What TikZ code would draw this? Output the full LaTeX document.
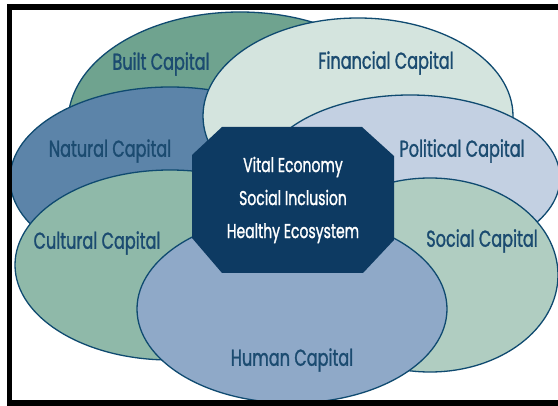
\documentclass[tikz,border=0pt]{standalone}
\usepackage{fontspec}
\newfontfamily\capfont[FakeStretch=0.70,FakeBold=1.2]{Poppins}
\definecolor{builtc}{HTML}{6FA38F}
\definecolor{finc}{HTML}{D4E4DE}
\definecolor{natc}{HTML}{5C84A9}
\definecolor{polc}{HTML}{C3D0E2}
\definecolor{culc}{HTML}{8FB9A9}
\definecolor{socc}{HTML}{B0CDC1}
\definecolor{humc}{HTML}{8FA9C8}
\definecolor{corec}{HTML}{0D3A62}
\definecolor{edgec}{HTML}{0F4A70}
\definecolor{labc}{HTML}{1B4B70}
\tikzset{
  capshape/.style={draw=edgec, line width=1.3pt},
  lbl/.style={font=\capfont\fontsize{23}{23}\selectfont, text=labc, inner sep=0pt},
  corelbl/.style={font=\capfont\fontsize{20}{33}\selectfont, text=white, align=center, inner sep=0pt},
}
\begin{document}
\begin{tikzpicture}[x=1pt,y=-1pt]
\useasboundingbox (0,0) rectangle (558,406);
\fill[white] (0,0) rectangle (558,406);
% ellipses, back to front
\filldraw[capshape, fill=builtc] (240,122) ellipse [x radius=172, y radius=110];
\filldraw[capshape, fill=natc] (170,179) ellipse [x radius=160, y radius=92];
\filldraw[capshape, fill=finc] (358,116) ellipse [x radius=155, y radius=98];
\filldraw[capshape, fill=polc] (410,178) ellipse [x radius=150, y radius=83];
\filldraw[capshape, fill=culc] (170,265) ellipse [x radius=155, y radius=95];
\filldraw[capshape, fill=socc] (430,275) ellipse [x radius=128, y radius=97];
\filldraw[capshape, fill=humc] (292,309) ellipse [x radius=155, y radius=94];
% core octagon
\fill[corec] (222,127) -- (362,127) -- (394,156) -- (394,240) -- (363,273)
  -- (222,273) -- (192,238) -- (192,155) -- cycle;
% labels
\node[lbl] (built) at (161,64) {Built Capital};
\node[lbl] (fin) at (386,63) {Financial Capital};
\node[lbl] (nat) at (110,151) {Natural Capital};
\node[lbl] (pol) at (462,151) {Political Capital};
\node[lbl] (cul) at (97,243) {Cultural Capital};
\node[lbl] (soc) at (482,241) {Social Capital};
\node[lbl] (hum) at (292,360) {Human Capital};
\node[corelbl] (core) at (293,200) {Vital Economy\\Social Inclusion\\Healthy Ecosystem};
% frame
\draw[line width=5.5pt] (9.5,7) rectangle (575,403);
\end{tikzpicture}
\end{document}
